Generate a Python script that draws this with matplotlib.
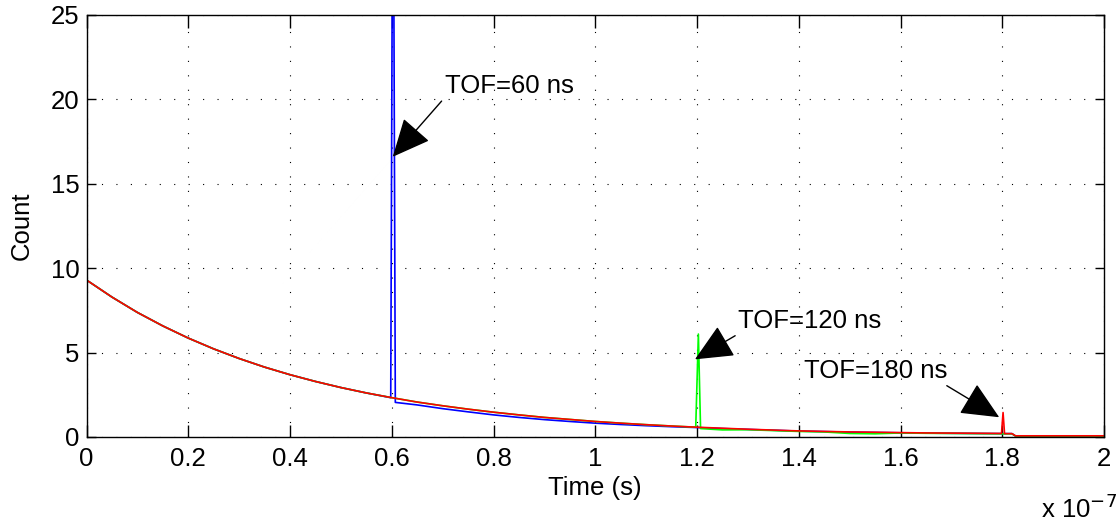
import matplotlib
matplotlib.use("Agg")
import matplotlib.pyplot as plt
from matplotlib.ticker import FuncFormatter

plt.rcParams['font.family'] = ['Liberation Sans', 'DejaVu Sans']

# times are in units of 1e-7 s (axis shows "x 10^-7")
decay_t = [0.00, 0.05, 0.10, 0.15, 0.20, 0.25, 0.30, 0.35, 0.40, 0.45,
           0.50, 0.55, 0.60, 0.65, 0.70, 0.75, 0.80, 0.85, 0.90, 0.95,
           1.00, 1.05, 1.10, 1.15, 1.20, 1.25, 1.30, 1.35, 1.40, 1.45,
           1.50, 1.55, 1.60, 1.65, 1.70, 1.75, 1.80]
decay_n = [9.30, 8.29, 7.38, 6.58, 5.86, 5.22, 4.65, 4.14, 3.69, 3.29,
           2.93, 2.61, 2.33, 2.07, 1.85, 1.65, 1.47, 1.31, 1.16, 1.04,
           0.92, 0.82, 0.73, 0.65, 0.58, 0.52, 0.46, 0.41, 0.36, 0.33,
           0.30, 0.28, 0.26, 0.24, 0.23, 0.22, 0.21]

# TOF = 60 ns (blue)
peak60_t = [0.598, 0.6025, 0.607]
peak60_n = [2.33, 40.0, 2.05]
blue_tail_t = [0.65, 0.70, 0.75, 0.80, 0.85, 0.90, 0.95, 1.00, 1.05, 1.10,
               1.15, 1.20, 1.25, 1.30, 1.35, 1.40, 1.45, 1.50, 1.55, 1.60,
               1.65, 1.70, 1.75, 1.80, 1.819, 1.826, 2.00]
blue_tail_n = [1.90, 1.68, 1.49, 1.31, 1.16, 1.03, 0.92, 0.82, 0.74, 0.67,
               0.61, 0.56, 0.50, 0.45, 0.40, 0.35, 0.32, 0.29, 0.27, 0.25,
               0.23, 0.22, 0.21, 0.20, 0.20, 0.06, 0.06]

# TOF = 120 ns (green)
peak120_t = [1.1975, 1.2027, 1.207]
peak120_n = [0.58, 6.1, 0.50]
green_tail_t = [1.25, 1.30, 1.35, 1.40, 1.45, 1.50, 1.55, 1.60, 1.65, 1.70,
                1.75, 1.80, 1.819, 1.826, 2.00]
green_tail_n = [0.42, 0.43, 0.38, 0.33, 0.30, 0.21, 0.19, 0.24, 0.22, 0.21,
                0.20, 0.19, 0.19, 0.06, 0.06]

# TOF = 180 ns (red)
peak180_t = [1.7985, 1.8016, 1.8045]
peak180_n = [0.21, 1.45, 0.20]
red_tail_t = [1.819, 1.826, 2.00]
red_tail_n = [0.20, 0.07, 0.07]

n_blue = sum(1 for t in decay_t if t < 0.598)
n_green = sum(1 for t in decay_t if t < 1.1975)
n_red = sum(1 for t in decay_t if t < 1.7985)

blue_t = decay_t[:n_blue] + peak60_t + blue_tail_t
blue_n = decay_n[:n_blue] + peak60_n + blue_tail_n
green_t = decay_t[:n_green] + peak120_t + green_tail_t
green_n = decay_n[:n_green] + peak120_n + green_tail_n
red_t = decay_t[:n_red] + peak180_t + red_tail_t
red_n = decay_n[:n_red] + peak180_n + red_tail_n

fs = 18.5
fig = plt.figure(figsize=(11.19, 5.25), dpi=100)
ax = fig.add_axes([86.5 / 1119, 88 / 525, 1017.5 / 1119, 422 / 525])

ax.plot(blue_t, blue_n, color=(0, 0, 1), lw=1.2)
ax.plot(green_t, green_n, color=(0, 1, 0), lw=1.2)
ax.plot(red_t, red_n, color=(1, 0, 0), lw=1.2)

ax.set_xlim(0, 2)
ax.set_ylim(0, 25)
ax.set_xticks([0, 0.2, 0.4, 0.6, 0.8, 1.0, 1.2, 1.4, 1.6, 1.8, 2.0])
ax.set_yticks([0, 5, 10, 15, 20, 25])
ax.xaxis.set_major_formatter(FuncFormatter(lambda v, p: '%g' % v))
ax.grid(True, color='k', linestyle=(0, (1, 12)), linewidth=0.8)
ax.tick_params(direction='in', top=True, right=True, labelsize=fs, width=1)
ax.tick_params(axis='x', length=9, pad=7)
ax.tick_params(axis='y', length=6.5, pad=5)
for s in ax.spines.values():
    s.set_linewidth(1.0)

ax.set_xlabel('Time (s)', fontsize=fs, labelpad=4)
ax.set_ylabel('Count', fontsize=fs, labelpad=12)
fig.text(1041 / 1119, 1 - 509 / 525, r'x 10$^{-7}$', fontsize=fs, va='center', ha='left')

arrow = dict(arrowstyle='-|>,head_length=1.2,head_width=0.55', mutation_scale=20,
             color='k', lw=1, shrinkA=0, shrinkB=0)
ax.annotate('', xy=(0.602, 16.6), xytext=(0.698, 19.9), arrowprops=arrow)
ax.text(0.704, 20.8, 'TOF=60 ns', fontsize=fs, va='center', ha='left')
ax.annotate('', xy=(1.196, 4.6), xytext=(1.275, 6.0), arrowprops=arrow)
ax.text(1.281, 6.9, 'TOF=120 ns', fontsize=fs, va='center', ha='left')
ax.annotate('', xy=(1.794, 1.17), xytext=(1.691, 3.04), arrowprops=arrow)
ax.text(1.41, 3.92, 'TOF=180 ns', fontsize=fs, va='center', ha='left')

fig.savefig('out.png', dpi=100)
